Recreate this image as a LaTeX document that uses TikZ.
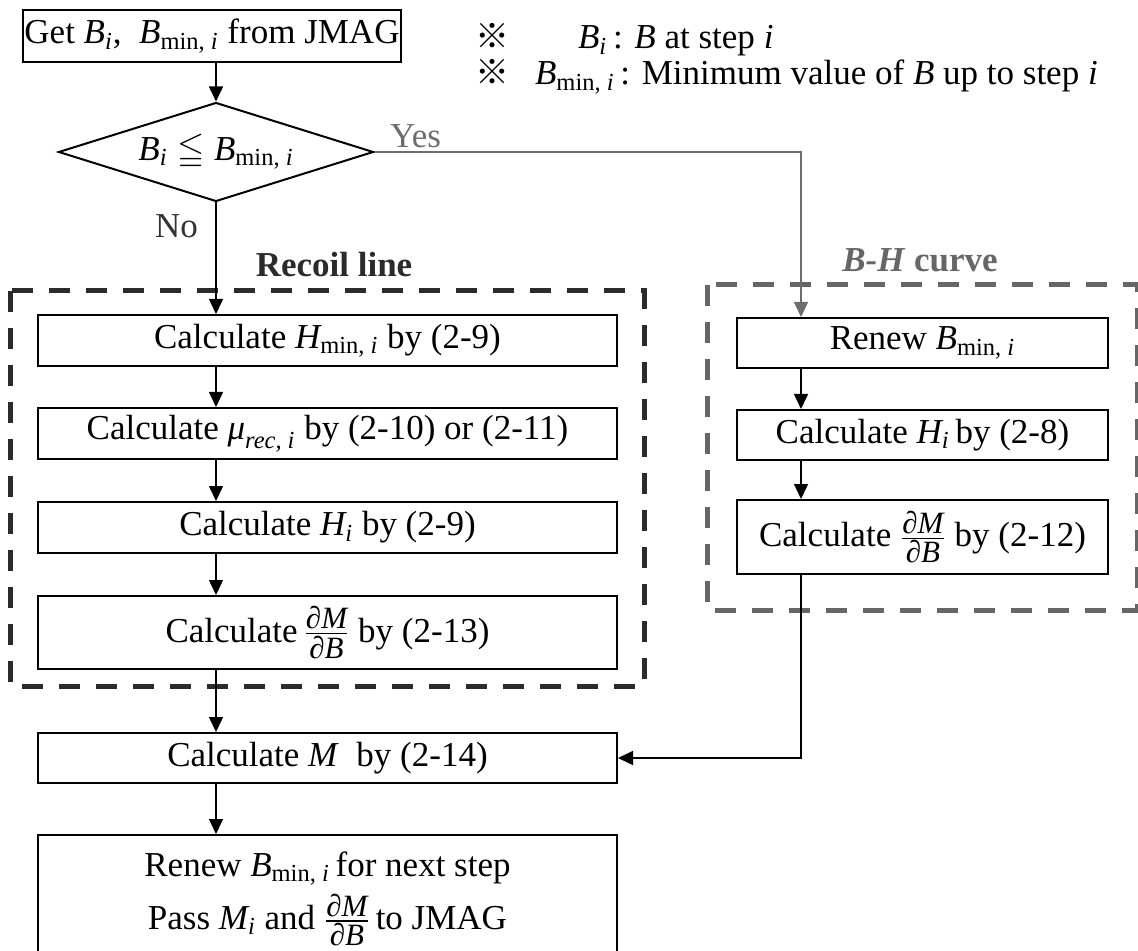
\documentclass[tikz,border=0pt]{standalone}
\usepackage{amsmath,amssymb}
\usepackage{fontspec}
\setmainfont{Liberation Serif}
\newfontfamily\cjk{Noto Sans CJK JP}
\usetikzlibrary{shapes.geometric,arrows.meta,calc}

% symbols used in the flow chart
\newcommand\vB{\textit{B}}
\newcommand\Bi{\ensuremath{\textit{B}_{\textit{i}}}}
\newcommand\Bmin{\ensuremath{\textit{B}_{\text{min, \textit{i}}}}}
\newcommand\Hmin{\ensuremath{\textit{H}_{\text{min, \textit{i}}}}}
\newcommand\Hi{\ensuremath{\textit{H}_{\textit{i}}}}
\newcommand\Mi{\ensuremath{\textit{M}_{\textit{i}}}}
\newcommand\murec{\ensuremath{\textit{μ}_{\text{\itshape rec, i}}}}
\newcommand\fracpart[1]{\text{\fontsize{15.5}{16}\selectfont\itshape #1}}
\newcommand\dMdB{\ensuremath{\frac{\fracpart{∂M}}{\fracpart{∂B}}}}

\definecolor{frameA}{HTML}{2B2B2B}
\definecolor{frameB}{HTML}{666666}
\definecolor{yesgray}{HTML}{6D6D6D}

\tikzset{
  box/.style={draw, line width=1pt, inner sep=0pt, align=center},
  lbox/.style={box, minimum width=289.5pt},
  rbox/.style={box, minimum width=185.5pt},
  arr/.style={line width=0.75pt, -{Triangle[width=7pt,length=7.5pt]}},
  yesarr/.style={arr, draw=yesgray, -{Triangle[width=7pt,length=7.5pt,fill=yesgray]}},
  frameRecoil/.style={draw=frameA, line width=2.5pt, dash pattern=on 10.5pt off 8pt},
  frameBH/.style={draw=frameB, line width=2.5pt, dash pattern=on 10.5pt off 8pt},
  mainfont/.style={font=\fontsize{17.5}{21}\selectfont},
}

\begin{document}
\begin{tikzpicture}[x=0.5pt, y=-0.5pt, mainfont]
\useasboundingbox (0,0) rectangle (1138,951);

% group frames
\draw[frameRecoil] (10,291) rectangle (644,686);
\draw[frameBH] (707,285) rectangle (1137,610);
\node[anchor=base, text=frameA, font=\fontsize{17.5}{21}\selectfont\bfseries] (reclbl) at (334,277) {Recoil line};
\node[anchor=base, text=frameB, font=\fontsize{17.5}{21}\selectfont\bfseries] (bhlbl) at (920,272) {\textit{B-H} curve};

% start and decision
\node[box, minimum width=189pt, minimum height=26pt] (get) at (212,36) {Get \Bi,\ \ \Bmin\ from JMAG};
\node[draw, diamond, aspect=3.18, line width=1pt, inner sep=0pt,
      minimum width=157.5pt, minimum height=49.5pt] (dec) at (216,152) {$\textit{B}_{\textit{i}} \leqq \textit{B}_{\text{min, \textit{i}}}$};

% notes
\node[anchor=base west, font=\fontsize{17}{20}\cjk] (m1) at (468,49) {※};
\node[anchor=base west, font=\fontsize{17}{20}\cjk] (m2) at (468,85) {※};
\node[anchor=base west] (n1) at (571,49) {\Bi\,: \vB\ at step \textit{i}};
\node[anchor=base west] (n2) at (528,85) {\Bmin\,: Minimum value of \vB\ up to step \textit{i}};

% recoil line branch
\node[lbox, minimum height=25.5pt] (hmin) at (327.5,340.5) {Calculate \Hmin\ by (2-9)};
\node[lbox, minimum height=25.5pt] (mu) at (327.5,433.5) {Calculate \murec\ by (2-10) or (2-11)};
\node[lbox, minimum height=25.5pt] (hi) at (327.5,527.5) {Calculate \Hi\ by (2-9)};
\node[lbox, minimum height=36.5pt] (dmdb1) at (327.5,632.5) {Calculate\,\dMdB\ by (2-13)};

% B-H curve branch
\node[rbox, minimum height=25pt] (renew) at (922.5,343) {Renew \Bmin};
\node[rbox, minimum height=25pt] (hi2) at (922.5,435) {Calculate \Hi\,by (2-8)};
\node[rbox, minimum height=37pt] (dmdb2) at (922.5,537) {Calculate \dMdB\ by (2-12)};

% common tail
\node[lbox, minimum height=64pt, anchor=north] (final) at (327.5,834)
  {Renew \Bmin\,for next step\\[3pt] Pass \Mi\ and \dMdB\,to JMAG};
\node[lbox, minimum height=25pt] (calcM) at (327.5,758) {Calculate \textit{M}\ \ by (2-14)};

% labels on the decision outputs
\node[anchor=base west, text=yesgray] (yes) at (383,148) {Yes};
\node[anchor=base east, text=black!80] (no) at (205,238) {No};

% connectors
\coordinate (yx) at (801,0);
\draw[arr] (get.south -| dec.north) -- (dec.north);
\draw[yesarr] (dec.east) -| (renew.north -| yx);
\draw[arr] (dec.south) -- (dec.south |- hmin.north);
\draw[arr] (hmin.south -| dec.south) -- (mu.north -| dec.south);
\draw[arr] (mu.south -| dec.south) -- (hi.north -| dec.south);
\draw[arr] (hi.south -| dec.south) -- (dmdb1.north -| dec.south);
\draw[arr] (dmdb1.south -| dec.south) -- (calcM.north -| dec.south);
\draw[arr] (calcM.south -| dec.south) -- (final.north -| dec.south);
\draw[arr] (renew.south -| yx) -- (hi2.north -| yx);
\draw[arr] (hi2.south -| yx) -- (dmdb2.north -| yx);
\draw[arr] (dmdb2.south -| yx) |- (calcM.east);
\end{tikzpicture}
\end{document}
